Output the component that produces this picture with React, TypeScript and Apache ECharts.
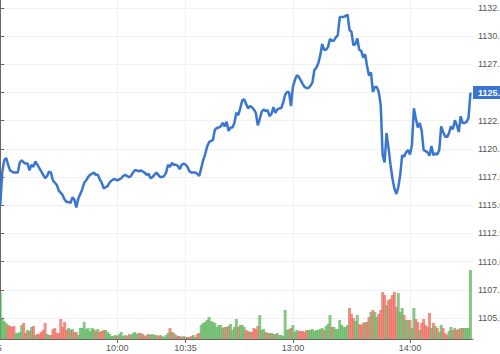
import React, { useEffect, useRef } from "react";
import * as echarts from "echarts";

// minute index 0 = 09:00, 150 = 13:00 (lunch break skipped)
const prices: number[] = [
  1115.0, 1117.9, 1119.0, 1119.2, 1118.6, 1118.1, 1118.0, 1117.9, 1117.9, 1117.9,
  1118.8, 1119.0, 1118.8, 1118.7, 1118.7, 1118.1, 1118.6, 1118.4, 1118.9, 1118.6,
  1118.3, 1118.0, 1117.7, 1117.4, 1117.6, 1118.0, 1117.9, 1117.2, 1117.0, 1116.8,
  1116.3, 1116.1, 1115.9, 1115.5, 1115.3, 1115.3, 1115.2, 1115.7, 1115.5, 1114.8,
  1115.6, 1116.0, 1116.4, 1117.0, 1117.2, 1117.5, 1117.7, 1117.8, 1117.9, 1117.7,
  1117.7, 1117.3, 1117.0, 1116.5, 1116.6, 1116.7, 1117.0, 1117.2, 1117.3, 1117.3,
  1117.2, 1117.3, 1117.4, 1117.6, 1117.7, 1117.6, 1117.5, 1117.6, 1117.9, 1118.1,
  1118.1, 1118.0, 1118.1, 1118.0, 1117.9, 1117.7, 1117.8, 1117.4, 1117.5, 1117.7,
  1117.9, 1117.7, 1117.5, 1117.5, 1117.6, 1117.9, 1118.6, 1118.4, 1118.75, 1118.6,
  1118.6, 1118.5, 1118.2, 1118.6, 1118.7, 1118.6, 1118.4, 1118.0, 1117.9, 1117.9,
  1117.9, 1117.8, 1117.6, 1118.3, 1119.0, 1119.5, 1120.2, 1120.6, 1120.7, 1120.8,
  1121.7, 1121.85, 1121.9, 1122.0, 1122.3, 1122.0, 1122.4, 1121.6, 1121.9, 1121.9,
  1122.3, 1123.2, 1123.0, 1123.6, 1124.3, 1124.4, 1124.0, 1123.6, 1123.8, 1123.7,
  1123.5, 1123.2, 1122.1, 1122.65, 1123.3, 1123.5, 1123.35, 1123.45, 1122.9, 1123.1,
  1123.7, 1123.2, 1123.5, 1123.6, 1123.6, 1124.1, 1124.8, 1125.05, 1125.05, 1123.8,
  1125.5, 1126.1, 1126.55, 1126.4, 1126.1, 1125.75, 1125.5, 1125.4, 1125.4, 1125.6,
  1125.9, 1127.0, 1127.2, 1127.6, 1128.3, 1129.3, 1128.8, 1128.8, 1129.05, 1129.75,
  1129.6, 1129.6, 1129.9, 1130.1, 1131.7, 1131.7, 1131.7, 1131.8, 1131.9, 1130.55,
  1130.4, 1129.2, 1129.3, 1129.8, 1128.8, 1128.7, 1128.1, 1128.4, 1127.35, 1126.5,
  1126.8, 1125.05, 1125.5, 1125.5, 1125.05, 1123.9, 1119.45, 1118.8, 1121.4, 1120.1,
  1118.6, 1117.4, 1116.5, 1116.0, 1116.6, 1117.7, 1119.45, 1119.3, 1119.7, 1119.9,
  1119.5, 1120.35, 1123.6, 1122.7, 1121.9, 1122.3, 1121.6, 1119.9, 1119.8, 1119.7,
  1119.4, 1120.25, 1119.45, 1119.6, 1119.5, 1119.9, 1122.0, 1121.5, 1121.1, 1121.05,
  1121.4, 1122.0, 1121.75, 1122.55, 1122.1, 1121.5, 1122.9, 1122.3, 1122.3, 1122.4,
  1122.75, 1125.0,
];

const volumes: number[] = [
  460, 200, 180, 160, 140, 130, 120, 130, 60, 60,
  70, 140, 160, 60, 90, 80, 120, 130, 40, 50,
  50, 70, 90, 160, 50, 40, 40, 100, 110, 60,
  60, 200, 120, 170, 90, 110, 90, 100, 70, 70,
  40, 110, 110, 170, 100, 110, 80, 110, 100, 80,
  100, 70, 80, 90, 90, 70, 50, 30, 30, 40,
  30, 50, 70, 30, 40, 30, 50, 40, 60, 70,
  50, 60, 60, 50, 30, 40, 50, 40, 50, 40,
  40, 30, 40, 30, 20, 40, 60, 110, 70, 60,
  40, 30, 30, 20, 30, 20, 20, 20, 30, 40,
  20, 50, 60, 140, 160, 170, 190, 220, 180, 170,
  160, 120, 140, 140, 110, 120, 120, 130, 150, 90,
  120, 200, 120, 140, 140, 120, 90, 80, 70, 70,
  110, 100, 130, 240, 90, 100, 70, 60, 60, 60,
  50, 50, 60, 40, 40, 30, 290, 90, 100, 110,
  140, 70, 90, 80, 80, 80, 70, 90, 90, 90,
  100, 80, 90, 90, 100, 110, 90, 130, 150, 240,
  120, 120, 100, 100, 190, 140, 120, 120, 140, 310,
  250, 210, 180, 240, 150, 140, 160, 170, 170, 220,
  270, 290, 270, 220, 250, 290, 470, 440, 340, 390,
  400, 440, 470, 320, 460, 270, 310, 240, 190, 190,
  190, 110, 310, 200, 170, 90, 160, 200, 140, 120,
  260, 110, 160, 130, 110, 70, 140, 110, 60, 40,
  80, 120, 90, 110, 90, 100, 110, 110, 110, 110,
  110, 690,
];

const xTickValues: number[] = [-5, 60, 95, 150, 210];
const yTickValues: number[] = [1105, 1107.5, 1110, 1112.5, 1115, 1117.5, 1120, 1122.5, 1125, 1127.5, 1130, 1132.5];

function minuteLabel(idx: number): string {
  let total = idx < 150 ? 9 * 60 + idx : 13 * 60 + (idx - 150);
  const h = Math.floor(total / 60);
  const m = total % 60;
  return String(h).padStart(2, "0") + ":" + String(m).padStart(2, "0");
}

export default function App() {
  const ref = useRef<HTMLDivElement>(null);
  useEffect(() => {
    if (!ref.current) return;
    const chart = echarts.init(ref.current, null, { renderer: "svg" });
    const lineData = prices.map((p, i) => [i, p]);
    const barData = volumes.map((v, i) => ({
      value: [i, v],
      itemStyle: {
        color: i === 0 || prices[i] >= prices[i - 1] ? "#5fb45f" : "#ee6a5c",
      },
    }));
    const last = prices[prices.length - 1];
    const font = "Liberation Sans, Arial, sans-serif";
    chart.setOption({
      animation: false,
      grid: {
        left: -9.5,
        right: 27,
        top: 0,
        bottom: 15,
        containLabel: false,
        outerBoundsMode: "none",
      },
      xAxis: {
        type: "value",
        min: -5,
        max: 242.3,
        axisLine: { show: true, lineStyle: { color: "#666", width: 1 } },
        axisTick: { show: true, length: 4, customValues: xTickValues, lineStyle: { color: "#666" } },
        axisLabel: {
          customValues: xTickValues,
          formatter: (v: number) => minuteLabel(v),
          color: "#555",
          fontSize: 9,
          fontFamily: font,
          margin: 4,
        },
        splitLine: { show: true, lineStyle: { color: "#f1f1f1", width: 1 } },
      },
      yAxis: [
        {
          type: "value",
          position: "right",
          min: 1103.14,
          max: 1133.21,
          axisLine: { show: true, lineStyle: { color: "#666", width: 1 } },
          axisTick: { show: true, length: 4, customValues: yTickValues, lineStyle: { color: "#666" } },
          axisLabel: {
            customValues: yTickValues,
            formatter: (v: number) => v.toFixed(2),
            color: "#555",
            fontSize: 9,
            fontFamily: font,
            margin: 5,
          },
          splitLine: { show: true, lineStyle: { color: "#f1f1f1", width: 1 } },
        },
        {
          type: "value",
          min: 0,
          max: 3390,
          show: false,
          splitLine: { show: false },
        },
      ],
      series: [
        {
          type: "bar",
          yAxisIndex: 1,
          data: barData,
          barWidth: 3,
          itemStyle: { opacity: 0.75 },
          silent: true,
        },
        {
          type: "line",
          data: lineData,
          showSymbol: false,
          symbol: "none",
          lineStyle: { color: "#3a76d0", width: 2.5 },
          markLine: {
            silent: true,
            symbol: "none",
            lineStyle: { color: "rgba(0,0,0,0)", width: 0 },
            data: [{ yAxis: last }],
            label: {
              show: true,
              position: "end",
              distance: 0,
              formatter: () => last.toFixed(2),
              backgroundColor: "#3a76d0",
              color: "#fff",
              fontSize: 9,
              fontWeight: "bold",
              fontFamily: font,
              padding: [2, 4, 2, 5],
            },
          },
        },
      ],
    });
    return () => chart.dispose();
  }, []);
  return (
    <div
      ref={ref}
      style={{ position: "absolute", left: 0, top: 0, width: 500, height: 354 }}
    />
  );
}
